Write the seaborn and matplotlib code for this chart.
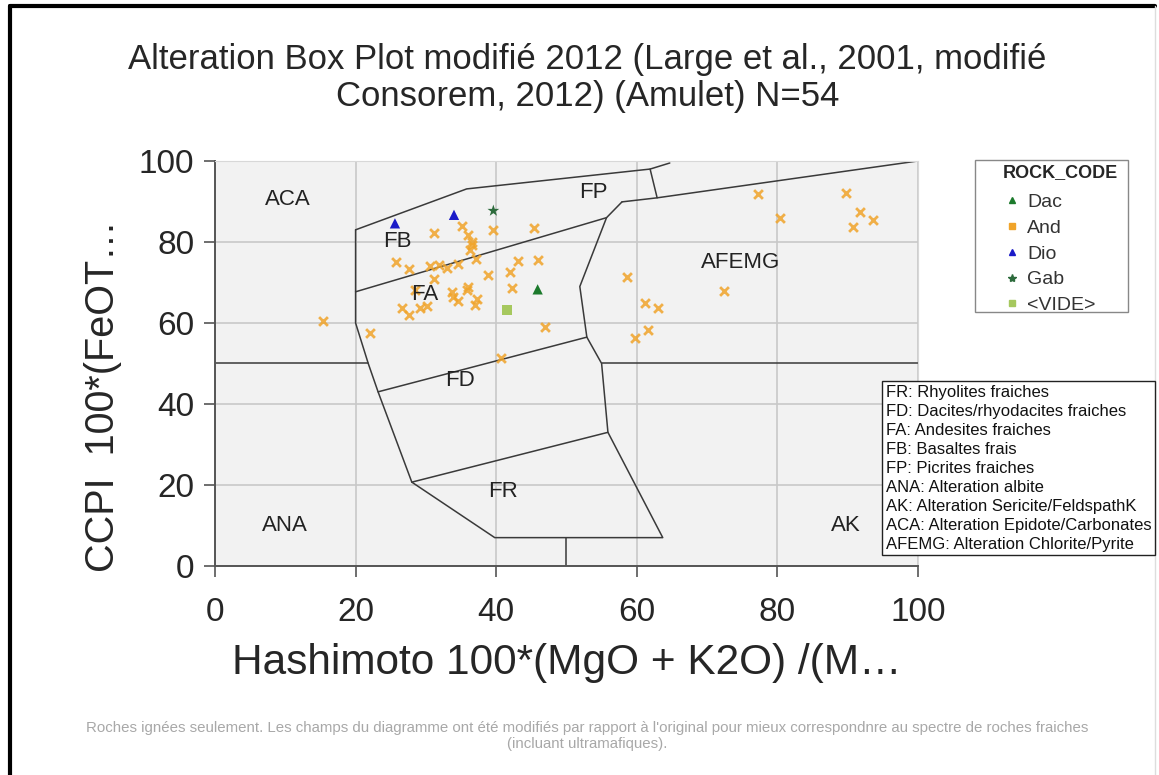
# %%
# Alteration Box Plot (Large et al., 2001, modifié Consorem 2012) - Amulet
import pandas as pd
import numpy as np
import matplotlib.pyplot as plt
import seaborn as sns
from matplotlib.lines import Line2D
from matplotlib.patches import Rectangle

# %%
# Valeurs
and_x = [31.1, 35.1, 36.0, 36.6, 36.3, 39.5, 45.4, 25.7, 27.6, 30.6, 31.8, 33.0, 34.6, 37.1,
         43.1, 45.9, 42.0, 38.9, 31.1, 42.2, 33.7, 33.9, 34.5, 36.0, 35.8, 37.3, 37.0, 26.6,
         27.6, 29.2, 30.1, 46.9, 22.0, 40.7, 15.3, 28.4, 36.5,
         77.3, 80.4, 89.7, 91.7, 93.6, 90.7, 58.6, 72.4, 61.2, 63.0, 61.6, 59.7]
and_y = [82.1, 84.0, 81.7, 79.3, 78.0, 83.0, 83.5, 75.1, 73.3, 74.1, 74.2, 73.5, 74.6, 75.7,
         75.4, 75.6, 72.7, 71.9, 70.9, 68.6, 67.7, 66.5, 65.4, 68.8, 68.1, 65.8, 64.4, 63.6,
         62.0, 63.6, 64.2, 59.1, 57.6, 51.3, 60.6, 68.1, 80.0,
         91.8, 86.0, 92.0, 87.5, 85.4, 83.6, 71.4, 67.9, 64.9, 63.6, 58.3, 56.2]
dac_x, dac_y = [45.9], [68.3]
dio_x, dio_y = [25.6, 34.0], [84.6, 86.7]
gab_x, gab_y = [39.6], [87.7]
vide_x, vide_y = [41.5], [63.2]

codes = ['Dac', 'And', 'Dio', 'Gab', '<VIDE>']
couleurs = {'Dac': '#1c7a2c', 'And': '#f0a42a', 'Dio': '#1a1ac8',
            'Gab': '#2d6b3c', '<VIDE>': '#a6c85e'}
marqueurs = {'Dac': '^', 'And': 'x', 'Dio': '^', 'Gab': '*', '<VIDE>': 's'}

# champs du diagramme (lignes)
champs = [
    ([0, 21.8], [50, 50]),
    ([55.0, 100], [50, 50]),
    ([20.0, 20.0, 21.8, 23.2, 28.0, 39.8, 63.7, 55.9, 55.0, 52.9, 51.9, 55.7, 57.9],
     [83.0, 60.0, 50.0, 43.0, 20.7, 7.0, 7.0, 33.0, 50.0, 56.5, 69.0, 86.0, 89.9]),
    ([20.0, 35.8, 61.9, 64.7], [83.0, 93.1, 98.0, 99.5]),
    ([61.9, 62.9], [98.0, 90.9]),
    ([57.9, 62.9, 100], [89.9, 90.9, 100]),
    ([20.0, 55.7], [67.7, 86.0]),
    ([23.2, 52.9], [43.0, 56.5]),
    ([28.0, 55.9], [20.7, 33.0]),
    ([50.0, 50.0], [7.0, 0]),
]
etiquettes = [('ACA', 10.3, 90.5), ('FB', 25.9, 80.2), ('FA', 29.9, 67.0), ('FP', 53.8, 92.3),
              ('AFEMG', 74.7, 75.0), ('FD', 34.9, 45.7), ('FR', 41.0, 18.3),
              ('ANA', 10.0, 10.1), ('AK', 89.8, 10.1)]

info = ("FR: Rhyolites fraiches\nFD: Dacites/rhyodacites fraiches\nFA: Andesites fraiches\n"
        "FB: Basaltes frais\nFP: Picrites fraiches\nANA: Alteration albite\n"
        "AK: Alteration Sericite/FeldspathK\nACA: Alteration Epidote/Carbonates\n"
        "AFEMG: Alteration Chlorite/Pyrite")

# %%
df = pd.concat([
    pd.DataFrame({'x': and_x, 'y': and_y, 'ROCK_CODE': 'And'}),
    pd.DataFrame({'x': dac_x, 'y': dac_y, 'ROCK_CODE': 'Dac'}),
    pd.DataFrame({'x': dio_x, 'y': dio_y, 'ROCK_CODE': 'Dio'}),
    pd.DataFrame({'x': gab_x, 'y': gab_y, 'ROCK_CODE': 'Gab'}),
    pd.DataFrame({'x': vide_x, 'y': vide_y, 'ROCK_CODE': '<VIDE>'}),
], ignore_index=True)

sns.set_style('whitegrid')
plt.rcParams['font.family'] = ['Liberation Sans', 'DejaVu Sans']

fig = plt.figure(figsize=(11.59, 7.75), dpi=100)
ax = fig.add_axes([0.1855, 0.2697, 0.6065, 0.5226])
ax.set_facecolor('#f2f2f2')

for c in ['<VIDE>', 'And', 'Dac', 'Dio', 'Gab']:
    sub = df[df['ROCK_CODE'] == c]
    if marqueurs[c] == 'x':
        sns.scatterplot(data=sub, x='x', y='y', marker='x', color=couleurs[c], s=40,
                        linewidth=2.0, alpha=0.85, ax=ax, legend=False, zorder=3)
    else:
        taille = 80 if c == 'Gab' else 55
        sns.scatterplot(data=sub, x='x', y='y', marker=marqueurs[c], color=couleurs[c],
                        s=taille, edgecolor='none', ax=ax, legend=False, zorder=3)

for xs, ys in champs:
    ax.plot(xs, ys, color='#3a3a3a', lw=1.1, zorder=2)

for t, x, y in etiquettes:
    ax.text(x, y, t, fontsize=16, color='#222222', ha='center', va='center', zorder=4)

ax.set_xlim(0, 100)
ax.set_ylim(0, 100)
ax.set_xticks([0, 20, 40, 60, 80, 100])
ax.set_yticks([0, 20, 40, 60, 80, 100])
ax.grid(True, color='#c8c8c8', lw=1.2)
ax.tick_params(axis='both', labelsize=24, length=8, width=1.2, color='#555555',
               direction='out', bottom=True, left=True)
ax.tick_params(axis='x', pad=14)
ax.tick_params(axis='y', pad=7)
for s in ['left', 'bottom']:
    ax.spines[s].set_color('#555555')
    ax.spines[s].set_linewidth(1.4)
for s in ['top', 'right']:
    ax.spines[s].set_color('#d8d8d8')
ax.set_xlabel('Hashimoto 100*(MgO + K2O) /(M…', fontsize=30.5, labelpad=11)
ax.set_ylabel('CCPI  100*(FeOT…', fontsize=28.5)
ax.yaxis.set_label_coords(-0.132, 0.42)

fig.suptitle('Alteration Box Plot modifié 2012 (Large et al., 2001, modifié\nConsorem, 2012) (Amulet) N=54',
             fontsize=25, x=0.507, y=1 - 43 / 775, va='top', linespacing=1.15)

# %%
# légende ROCK_CODE (cadre dessiné à part)
fig.add_artist(Rectangle((975 / 1159, 1 - 312 / 775), 153 / 1159, 152 / 775,
                         transform=fig.transFigure, fc='white', ec='#888888', lw=1, zorder=5))
poignees = []
for c in codes:
    poignees.append(Line2D([], [], ls='none', marker='s' if c == 'And' else marqueurs[c],
                           color=couleurs[c], markersize=6 if c == 'Gab' else 4.5))
leg = fig.legend(poignees, codes, title='ROCK_CODE', loc='upper left',
                 bbox_to_anchor=(1003 / 1159, 1 - 164 / 775), borderaxespad=0, borderpad=0,
                 fontsize=14, frameon=False, handlelength=0.9, handletextpad=0.35,
                 labelspacing=0.42)
leg._legend_box.align = 'left'
leg._legend_box.sep = 9
leg.set_zorder(6)
leg.get_title().set_fontweight('bold')
leg.get_title().set_fontsize(13)
for t in leg.get_texts():
    t.set_color('#333333')

fig.text(886 / 1159, 1 - 385 / 775, info, fontsize=12, va='top', ha='left',
         linespacing=1.33, color='#111111',
         bbox=dict(boxstyle='square,pad=0.22', fc='white', ec='#222222', lw=1))

fig.text(0.5065, 1 - 736 / 775,
         "Roches ignées seulement. Les champs du diagramme ont été modifiés par rapport à l'original "
         "pour mieux correspondnre au spectre de roches fraiches\n(incluant ultramafiques).",
         fontsize=10.8, ha='center', va='center', color='#a8a8a8', linespacing=1.15)

# cadre de l'image
fig.add_artist(Line2D([10 / 1159, 10 / 1159], [0, 1 - 6 / 775], color='black', lw=3,
                      transform=fig.transFigure))
fig.add_artist(Line2D([10 / 1159, 1155 / 1159], [1 - 6 / 775, 1 - 6 / 775], color='black',
                      lw=3, transform=fig.transFigure))
fig.add_artist(Line2D([1155 / 1159, 1155 / 1159], [0, 1 - 6 / 775], color='#dddddd', lw=1,
                      transform=fig.transFigure))

fig.savefig('out.png', dpi=100)
